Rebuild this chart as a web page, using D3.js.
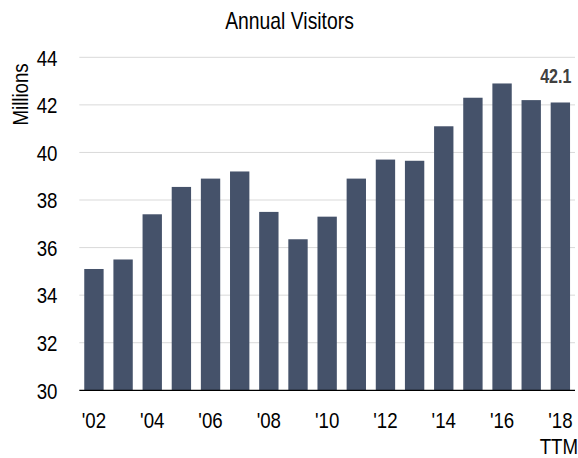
<!DOCTYPE html>
<html>
<head>
<meta charset="utf-8">
<script src="https://cdn.jsdelivr.net/npm/d3@7"></script>
<style>
  html, body { margin: 0; padding: 0; background: #fff; }
  svg { display: block; }
  text { font-family: "Liberation Sans", Arial, sans-serif; }
</style>
</head>
<body>
<svg id="chart" width="578" height="458"></svg>
<script>
const years = ["2002","2003","2004","2005","2006","2007","2008","2009","2010","2011","2012","2013","2014","2015","2016","2017","2018"];
const visitors = [35.1, 35.5, 37.4, 38.55, 38.9, 39.2, 37.5, 36.35, 37.3, 38.9, 39.7, 39.65, 41.1, 42.3, 42.9, 42.2, 42.1];
const tickLabels = ["'02","","'04","","'06","","'08","","'10","","'12","","'14","","'16","","'18"];
const yTicks = [30, 32, 34, 36, 38, 40, 42, 44];
const title = "Annual Visitors";
const yTitle = "Millions";
const lastNote = "TTM";
const lastLabel = "42.1";

(function () {
const svg = d3.select("#chart");
const pLeft = 79.3, pRight = 575, pTop = 57.3, pBottom = 390.3;
const NARROW = 0.82;
const tr = (tx, ty, extra) => `translate(${tx},${ty})${extra || ""} scale(${NARROW},1)`;

const x = d3.scaleBand().domain(years).range([pLeft, pRight]).paddingInner(0.336).paddingOuter(0.17);
const y = d3.scaleLinear().domain([30, 44]).range([pBottom, pTop]);

// gridlines
svg.append("g").selectAll("line").data(yTicks.filter(d => d !== 30)).join("line")
  .attr("x1", pLeft).attr("x2", pRight)
  .attr("y1", d => y(d)).attr("y2", d => y(d))
  .attr("stroke", "#d9d9d9").attr("stroke-width", 1);

// bars
svg.append("g").selectAll("rect").data(years).join("rect")
  .attr("x", d => x(d))
  .attr("width", x.bandwidth())
  .attr("y", (d, i) => y(visitors[i]))
  .attr("height", (d, i) => y(30) - y(visitors[i]))
  .attr("fill", "#45526a");

// x axis line
svg.append("line").attr("x1", pLeft).attr("x2", pRight)
  .attr("y1", pBottom).attr("y2", pBottom)
  .attr("stroke", "#000").attr("stroke-width", 1.3);

// y tick labels
svg.append("g").selectAll("text").data(yTicks).join("text")
  .attr("transform", d => tr(57.5, y(d))).attr("dy", "0.36em")
  .attr("text-anchor", "end").attr("font-size", 22.8).attr("fill", "#000")
  .text(d => d);

// x tick labels
svg.append("g").selectAll("text").data(years).join("text")
  .attr("transform", d => tr(x(d) + x.bandwidth() / 2, 428))
  .attr("text-anchor", "middle").attr("font-size", 22.8).attr("fill", "#000")
  .text((d, i) => tickLabels[i]);

const lastYear = years[years.length - 1];
svg.append("text")
  .attr("transform", tr(x(lastYear) + x.bandwidth() / 2 - 1.5, 454))
  .attr("text-anchor", "middle").attr("font-size", 22.8).attr("fill", "#000")
  .text(lastNote);

// value label
svg.append("text")
  .attr("transform", tr(x(lastYear) + x.bandwidth() + 1.4, 83.3))
  .attr("text-anchor", "end").attr("font-size", 19.6).attr("font-weight", "bold").attr("fill", "#404040")
  .text(lastLabel);

// title
svg.append("text").attr("transform", tr(289.5, 29.3))
  .attr("text-anchor", "middle").attr("font-size", 23.6).attr("fill", "#000")
  .text(title);

// y axis title
svg.append("text").attr("transform", tr(28, 63.3, " rotate(-90)"))
  .attr("text-anchor", "end").attr("font-size", 22.8).attr("fill", "#000")
  .text(yTitle);
})();
</script>
</body>
</html>
